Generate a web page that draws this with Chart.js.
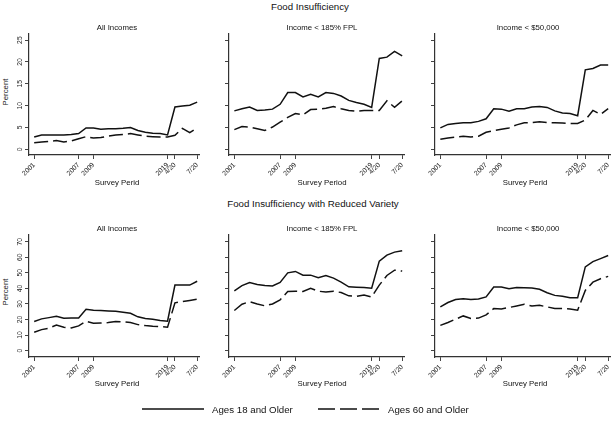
<!DOCTYPE html>
<html>
<head>
<meta charset="utf-8">
<script src="https://cdn.jsdelivr.net/npm/chart.js@4"></script>
<style>
body { margin: 0; background: #fff; }
#wrap { position: relative; width: 616px; height: 424px; overflow: hidden; font-family: 'Liberation Sans', Arial, sans-serif; color: #111; }
.t { position: absolute; white-space: nowrap; transform: translate(-50%, -50%); z-index: 2; }
.main { font-size: 9.7px; }
.sub { font-size: 7.8px; }
.rot { transform: translate(-50%, -50%) rotate(-90deg); }
canvas { position: absolute; z-index: 1; }
</style>
</head>
<body>
<div id="wrap">
  <canvas id="c0"></canvas><canvas id="c1"></canvas><canvas id="c2"></canvas>
  <canvas id="c3"></canvas><canvas id="c4"></canvas><canvas id="c5"></canvas>

  <div class="t main" style="left:310px; top:6px;">Food Insufficiency</div>
  <div class="t main" style="left:313px; top:203px;">Food Insufficiency with Reduced Variety</div>

  <div class="t sub" style="left:117px; top:27px;">All Incomes</div>
  <div class="t sub" style="left:322px; top:27px;">Income &lt; 185% FPL</div>
  <div class="t sub" style="left:528px; top:27px;">Income &lt; $50,000</div>
  <div class="t sub" style="left:117px; top:228px;">All Incomes</div>
  <div class="t sub" style="left:322px; top:228px;">Income &lt; 185% FPL</div>
  <div class="t sub" style="left:528px; top:228px;">Income &lt; $50,000</div>

  <div class="t sub" style="left:117px; top:181.5px;">Survey Perid</div>
  <div class="t sub" style="left:322px; top:181.5px;">Survey Period</div>
  <div class="t sub" style="left:525px; top:181.5px;">Survey Perid</div>
  <div class="t sub" style="left:117px; top:382.5px;">Survey Perid</div>
  <div class="t sub" style="left:322px; top:382.5px;">Survey Period</div>
  <div class="t sub" style="left:525px; top:382.5px;">Survey Perid</div>

  <div class="t sub rot" style="left:5px; top:92px;">Percent</div>
  <div class="t sub rot" style="left:5px; top:292px;">Percent</div>

  <!-- legende -->
  <svg style="position:absolute; left:0; top:400px; z-index:2;" width="616" height="20">
    <line x1="142" y1="9" x2="204" y2="9" stroke="#111" stroke-width="1.4"/>
    <text x="212" y="12.5" font-size="9.7" font-family="Liberation Sans, Arial" fill="#111">Ages 18 and Older</text>
    <line x1="318" y1="9" x2="380" y2="9" stroke="#111" stroke-width="1.4" stroke-dasharray="17 5"/>
    <text x="388" y="12.5" font-size="9.7" font-family="Liberation Sans, Arial" fill="#111">Ages 60 and Older</text>
  </svg>
</div>

<script>
// Các kỳ khảo sát: 2001-2019 hàng năm, rồi Pulse 4/20 - 7/20
const periods = ['2001','2002','2003','2004','2005','2006','2007','2008','2009','2010',
                 '2011','2012','2013','2014','2015','2016','2017','2018','2019',
                 '4/20','5/20','6/20','7/20'];
const xTickPos = [0, 6, 8, 18, 19, 22];
const xTickLabels = ['2001', '2007', '2009', '2019', '4/20', '7/20'];
const yTicksTop = [0, 5, 10, 15, 20, 25];
const yTicksBottom = [0, 10, 20, 30, 40, 50, 60, 70];

// Food Insufficiency
const fiAll18 = [2.8,3.3,3.3,3.3,3.3,3.4,3.6,4.9,4.9,4.6,4.7,4.7,4.8,5.0,4.3,3.9,3.7,3.6,3.3,9.7,9.9,10.1,10.8];
const fiAll60 = [1.5,1.7,1.8,2.0,1.7,1.9,2.4,2.9,2.6,2.7,3.0,3.3,3.4,3.6,3.3,3.0,2.9,2.8,2.8,3.2,4.8,3.8,4.9];
const fiFpl18 = [8.8,9.3,9.7,8.9,9.0,9.2,10.3,13.0,13.0,12.0,12.6,12.0,13.0,12.8,12.2,11.2,10.7,10.3,9.6,20.8,21.1,22.4,21.4];
const fiFpl60 = [4.5,5.2,5.1,4.7,4.3,5.1,6.2,7.3,8.2,7.9,9.1,9.2,9.4,9.8,9.3,8.9,8.7,8.9,8.9,8.9,11.1,9.6,11.1];
const fi50k18 = [4.9,5.7,5.9,6.1,6.1,6.4,7.0,9.3,9.2,8.7,9.3,9.3,9.7,9.8,9.6,8.8,8.3,8.2,7.7,18.2,18.5,19.3,19.3];
const fi50k60 = [2.3,2.6,2.8,3.0,2.8,3.0,3.9,4.3,4.6,4.9,5.6,6.1,6.1,6.3,6.1,6.1,6.0,5.9,5.9,6.7,8.9,8.0,9.3];

// Food Insufficiency with Reduced Variety
const rvAll18 = [18.7,20.4,21.2,22.1,20.8,21.0,21.0,26.6,26.0,25.8,25.5,25.3,24.7,24.0,21.7,20.6,20.2,19.3,18.9,42.1,42.1,42.1,44.6];
const rvAll60 = [11.8,13.5,14.4,16.5,15.0,14.6,15.9,18.9,17.6,17.8,18.0,18.7,18.5,18.0,16.7,16.1,15.7,15.5,15.0,30.7,31.5,32.2,33.0];
const rvFpl18 = [38.4,41.8,43.8,42.5,41.8,41.6,43.8,50.0,50.9,48.5,48.5,46.8,48.3,46.6,44.0,41.0,40.8,40.6,40.1,57.5,61.4,63.3,64.2];
const rvFpl60 = [25.8,29.8,31.5,30.0,28.8,30.0,32.6,38.0,38.2,38.0,40.1,38.2,37.6,38.2,37.3,35.2,34.8,35.8,34.5,42.1,48.3,51.7,51.1];
const rv50k18 = [28.1,30.9,32.8,33.4,32.8,33.2,34.5,40.9,40.9,39.8,40.6,40.4,40.2,39.4,37.2,35.5,34.9,34.0,34.0,53.8,57.2,59.1,61.1];
const rv50k60 = [16.2,18.1,20.2,22.3,20.6,20.9,23.0,27.0,26.8,27.7,28.7,29.8,28.7,29.1,28.1,27.0,27.0,26.8,26.0,38.7,44.0,46.2,47.7];

Chart.defaults.font.family = "'Liberation Sans', Arial, sans-serif";

// Nhãn trục y xoay dọc (chỉ cột đầu tiên)
const yTickText = {
    id: 'yTickText',
    afterDraw(chart) {
        const s = chart.scales.y;
        const ctx = chart.ctx;
        ctx.save();
        ctx.font = "6.8px 'Liberation Sans', Arial";
        ctx.fillStyle = '#222';
        ctx.textAlign = 'center';
        ctx.textBaseline = 'middle';
        s.ticks.forEach(t => {
            ctx.save();
            ctx.translate(s.right - 9, s.getPixelForValue(t.value));
            ctx.rotate(-Math.PI / 2);
            ctx.fillText(String(t.value), 0, 0);
            ctx.restore();
        });
        ctx.restore();
    }
};

const colLeft = [13, 213, 419];
const colWidth = [192, 197, 197];

function makePanel(id, col, top, height, s18, s60, yMin, yMax, yTicks) {
    const cv = document.getElementById(id);
    cv.width = colWidth[col];
    cv.height = height;
    cv.style.left = colLeft[col] + 'px';
    cv.style.top = top + 'px';
    const toXY = arr => arr.map((v, i) => ({ x: i, y: v }));
    return new Chart(cv.getContext('2d'), {
        type: 'line',
        data: {
            datasets: [
                { data: toXY(s18), borderColor: '#111', borderWidth: 1.5, pointRadius: 0, tension: 0 },
                { data: toXY(s60), borderColor: '#111', borderWidth: 1.5, borderDash: [14, 5], pointRadius: 0, tension: 0 }
            ]
        },
        options: {
            responsive: false,
            animation: false,
            layout: { padding: { top: 4, right: 4, left: 0, bottom: 0 } },
            plugins: { legend: { display: false }, tooltip: { enabled: false } },
            scales: {
                x: {
                    type: 'linear', min: -0.7, max: 22.3,
                    afterBuildTicks: s => { s.ticks = xTickPos.map(v => ({ value: v })); },
                    afterFit: s => { s.height = 26; },
                    ticks: {
                        autoSkip: false, minRotation: 45, maxRotation: 45, padding: 2,
                        font: { size: 6.8 }, color: '#222',
                        callback: v => xTickLabels[xTickPos.indexOf(v)]
                    },
                    grid: { drawOnChartArea: false, drawTicks: true, tickLength: 4, color: '#444' },
                    border: { display: true, color: '#333', width: 1.2 }
                },
                y: {
                    min: yMin, max: yMax,
                    afterBuildTicks: s => { s.ticks = yTicks.map(v => ({ value: v })); },
                    afterFit: s => { s.width = 16; },
                    ticks: { display: false },
                    grid: { drawOnChartArea: false, drawTicks: true, tickLength: 4, color: '#444' },
                    border: { display: true, color: '#333', width: 1.2 }
                }
            }
        },
        plugins: col === 0 ? [yTickText] : []
    });
}

makePanel('c0', 0, 30, 151, fiAll18, fiAll60, -1.3, 26.4, yTicksTop);
makePanel('c1', 1, 30, 151, fiFpl18, fiFpl60, -1.3, 26.4, yTicksTop);
makePanel('c2', 2, 30, 151, fi50k18, fi50k60, -1.3, 26.4, yTicksTop);
makePanel('c3', 0, 231, 152, rvAll18, rvAll60, -4.1, 74.3, yTicksBottom);
makePanel('c4', 1, 231, 152, rvFpl18, rvFpl60, -4.1, 74.3, yTicksBottom);
makePanel('c5', 2, 231, 152, rv50k18, rv50k60, -4.1, 74.3, yTicksBottom);
</script>
</body>
</html>
